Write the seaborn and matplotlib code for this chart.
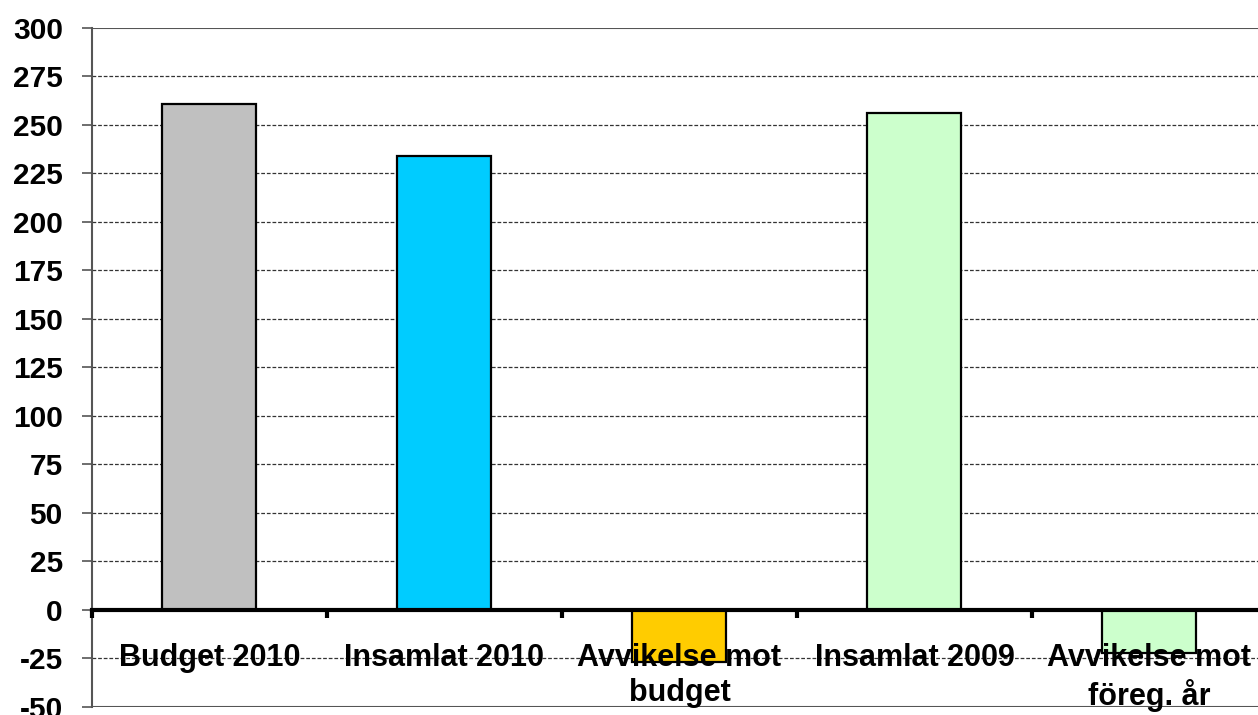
import numpy as np
import pandas as pd
import matplotlib
matplotlib.use('Agg')
import matplotlib.pyplot as plt
import seaborn as sns

# ── Data ──────────────────────────────────────────────
categories = ['Budget 2010', 'Insamlat 2010', 'Avvikelse mot\nbudget',
              'Insamlat 2009', 'Avvikelse mot\nföreg. år']
values = [261, 234, -27, 256, -22]
bar_colors = ['#C0C0C0', '#00CCFF', '#FFCC00', '#CCFFCC', '#CCFFCC']
y_ticks = list(range(-50, 301, 25))

df = pd.DataFrame({'cat': categories, 'val': values})

# ── Style ─────────────────────────────────────────────
sns.set_style('white')
plt.rcParams['font.family'] = ['Liberation Sans', 'DejaVu Sans']
plt.rcParams['font.weight'] = 'bold'
plt.rcParams['text.color'] = 'black'

fig = plt.figure(figsize=(12.58, 7.15), dpi=100)
ax = fig.add_axes([0.0731, 0.0112, 0.934, 0.9497])

sns.barplot(data=df, x='cat', y='val', hue='cat', palette=bar_colors,
            legend=False, width=0.4, edgecolor='black', linewidth=1.6,
            saturation=1, ax=ax, zorder=2)

ax.set_axisbelow(False)  # labels drawn over the bars, as in the original
ax.set_xlim(-0.5, len(categories) - 0.5)
ax.set_ylim(-50, 300)
ax.set_xlabel('')
ax.set_ylabel('')

# gridlines (dashed), solid border at top and bottom
for y in y_ticks:
    if y in (-50, 300):
        ax.axhline(y, color='#555555', lw=1.5, zorder=0.5)
    elif y != 0:
        ax.axhline(y, color='#333333', lw=0.9, ls=(0, (3, 1.5)), zorder=0.5)

ax.set_yticks(y_ticks)
ax.set_yticklabels([str(t) for t in y_ticks], fontsize=21.5, fontweight='bold')
ax.tick_params(axis='y', direction='out', length=7, width=1.2,
               color='#555555', labelcolor='black', pad=14, left=True)

# zero axis line with category boundaries
ax.spines['bottom'].set_position(('data', 0))
ax.spines['bottom'].set_linewidth(3)
ax.spines['bottom'].set_color('black')
ax.spines['bottom'].set_zorder(3)
ax.spines['top'].set_visible(False)
ax.spines['right'].set_visible(False)
ax.spines['left'].set_color('#555555')
ax.spines['left'].set_linewidth(1.5)

ax.set_xticks(np.arange(-0.5, len(categories), 1.0))
ax.set_xticklabels([''] * (len(categories) + 1))
ax.tick_params(axis='x', which='major', direction='out', length=6,
               width=3, color='black', bottom=True)
ax.set_xticks(range(len(categories)), minor=True)
ax.set_xticklabels(categories, minor=True, fontsize=22, fontweight='bold')
ax.tick_params(axis='x', which='minor', length=0, pad=24, labelcolor='black')

plt.savefig('out.png', dpi=100)
plt.close()
